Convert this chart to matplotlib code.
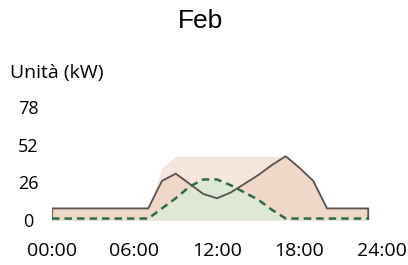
import numpy as np
import matplotlib.pyplot as plt

# Dati (ore e potenza in kW)
ore = list(range(24))
consumo = [8, 8, 8, 8, 8, 8, 8, 8, 27, 32, 25, 18, 15, 19, 25, 31,
           38, 44, 36, 27, 8, 8, 8, 8]
produzione = [1, 1, 1, 1, 1, 1, 1, 1, 8, 15, 23, 28, 28, 24, 19, 14,
              7, 1, 1, 1, 1, 1, 1, 1]
massimo = [8, 8, 8, 8, 8, 8, 8, 8, 36, 44, 44, 44, 44, 44, 44, 44,
           44, 44, 36, 27, 8, 8, 8, 8]
yticks = [0, 26, 52, 78]
xticks = [0, 6, 12, 18, 24]
xlabels = ["00:00", "06:00", "12:00", "18:00", "24:00"]

fig = plt.figure(figsize=(4.08, 2.65), dpi=100)
ax = fig.add_axes([52 / 408, 45 / 265, 330 / 408, 113 / 265])

ax.fill_between(ore, massimo, color="#f6e7de", lw=0)
ax.fill_between(ore, consumo, color="#f0d8c9", lw=0)
ax.fill_between(ore, produzione, color="#dde9d6", lw=0, alpha=0.95)

ax.plot([0] + ore + [23], [0] + consumo + [0], color="#5a4f4f", lw=1.3)
ax.plot(ore, produzione, color="#2e6b45", lw=1.8, linestyle=(0, (3, 2)))

ax.set_xlim(0, 24)
ax.set_ylim(0, 78)
ax.set_xticks(xticks)
ax.set_xticklabels(xlabels, fontsize=14, family="Open Sans")
ax.set_yticks(yticks)
ax.set_yticklabels([str(v) for v in yticks], fontsize=13, family="Open Sans")
for lab in ax.get_yticklabels():
    lab.set_horizontalalignment("center")
ax.tick_params(axis="x", length=0, pad=16)
ax.tick_params(axis="y", length=0, pad=17)
for s in ax.spines.values():
    s.set_visible(False)

fig.text(10 / 408, 1 - 73 / 265, "Unità (kW)", fontsize=14, family="Open Sans",
         va="center", ha="left")
fig.text(200 / 408, 1 - 21 / 265, "Feb", fontsize=19, family="Liberation Sans",
         va="center", ha="center")

fig.savefig("out.png", dpi=100)
